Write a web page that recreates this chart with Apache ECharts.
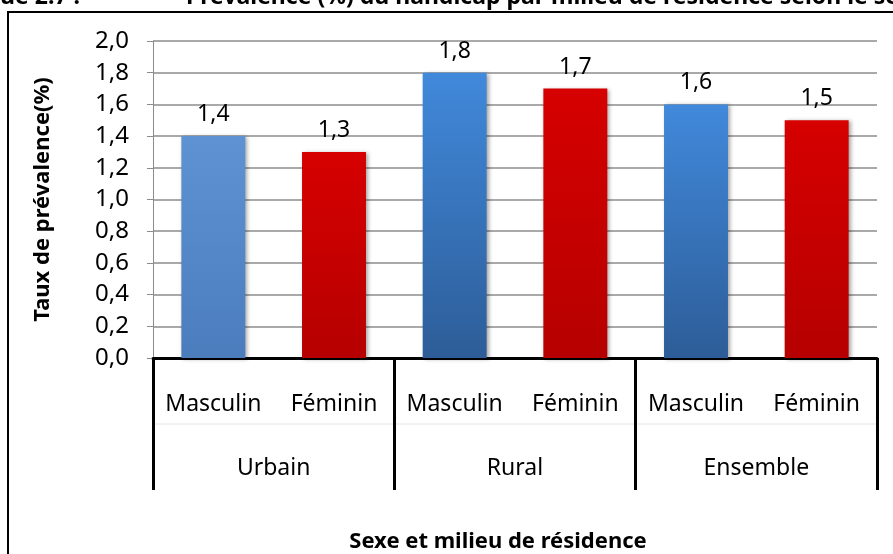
<!DOCTYPE html>
<html lang="fr">
<head>
    <meta charset="utf-8">
    <script src="https://cdn.jsdelivr.net/npm/echarts@6/dist/echarts.min.js"></script>
    <title>Prévalence du handicap</title>
    <style>
        html, body { margin: 0; padding: 0; background: #fff; }
        #main { width: 893px; height: 554px; }
    </style>
</head>
<body>
<div id="main"></div>
<script>
    // données
    var groups = ['Urbain', 'Rural', 'Ensemble'];
    var sexes = ['Masculin', 'Féminin', 'Masculin', 'Féminin', 'Masculin', 'Féminin'];
    var values = [1.4, 1.3, 1.8, 1.7, 1.6, 1.5];

    var FONT = 'Noto Sans';

    function virgule(v) {
        return v.toFixed(1).replace('.', ',');
    }

    function grad(top, bottom) {
        return new echarts.graphic.LinearGradient(0, 0, 0, 1, [
            {offset: 0, color: top},
            {offset: 1, color: bottom}
        ]);
    }

    // bleu pour masculin, rouge pour féminin (le 1er bleu est plus clair)
    function barColor(i) {
        if (sexes[i] === 'Féminin') return grad('#d60000', '#b60000');
        if (i === 0) return grad('#5e92d3', '#4b7dbd');
        return grad('#4189db', '#2d5d98');
    }

    var chart = echarts.init(document.getElementById('main'));

    var option = {
        animation: false,
        grid: {left: 153, right: 16, top: 41, bottom: 196},
        xAxis: [{
            type: 'category',
            data: sexes,
            axisLine: {lineStyle: {color: '#000', width: 3}},
            axisTick: {show: false},
            axisLabel: {
                interval: 0,
                margin: 35,
                color: '#000',
                fontSize: 23,
                fontFamily: FONT
            }
        }, {
            type: 'category',
            data: groups,
            position: 'bottom',
            axisLine: {show: false},
            axisTick: {show: true, length: 132, lineStyle: {color: '#000', width: 3}},
            axisLabel: {
                interval: 0,
                margin: 99,
                color: '#000',
                fontSize: 23,
                fontFamily: FONT
            }
        }],
        yAxis: {
            type: 'value',
            min: 0,
            max: 2,
            interval: 0.2,
            name: 'Taux de prévalence(%)',
            nameLocation: 'middle',
            nameGap: 99,
            nameRotate: 90,
            nameTextStyle: {color: '#000', fontSize: 22, fontWeight: 'bold', fontFamily: FONT},
            axisLine: {show: true, lineStyle: {color: '#8c8c8c', width: 1}},
            axisTick: {show: true, length: 6, lineStyle: {color: '#8c8c8c'}},
            splitLine: {lineStyle: {color: '#8c8c8c', width: 1.5}},
            axisLabel: {
                margin: 24,
                color: '#000',
                fontSize: 24,
                fontFamily: FONT,
                formatter: virgule
            }
        },
        series: [{
            type: 'bar',
            xAxisIndex: 0,
            barWidth: '53%',
            data: values.map(function (v, i) {
                return {value: v, itemStyle: {color: barColor(i)}};
            }),
            itemStyle: {
                shadowColor: 'rgba(0,0,0,0.35)',
                shadowBlur: 4,
                shadowOffsetX: 2,
                shadowOffsetY: 1
            },
            label: {
                show: true,
                position: 'top',
                distance: 10,
                color: '#000',
                fontSize: 23,
                fontFamily: FONT,
                formatter: function (p) { return virgule(p.value); }
            }
        }],
        graphic: [{
            type: 'rect',
            shape: {x: 8, y: 12, width: 920, height: 600},
            style: {fill: 'none', stroke: '#000', lineWidth: 2},
            silent: true
        }, {
            type: 'line',
            shape: {x1: 153, y1: 424, x2: 877, y2: 424},
            style: {stroke: '#e4e4e4', lineWidth: 1},
            silent: true
        }, {
            type: 'text',
            x: 80, y: -3,
            style: {
                text: 'Graphique 2.7 :',
                align: 'right', verticalAlign: 'middle',
                fontSize: 23, fontWeight: 'bold', fontFamily: FONT, fill: '#000'
            }
        }, {
            type: 'text',
            x: 186, y: -3,
            style: {
                text: 'Prévalence (%) du handicap par milieu de résidence selon le sexe',
                align: 'left', verticalAlign: 'middle',
                fontSize: 23, fontWeight: 'bold', fontFamily: FONT, fill: '#000'
            }
        }, {
            type: 'text',
            x: 498, y: 542,
            style: {
                text: 'Sexe et milieu de résidence',
                align: 'center', verticalAlign: 'middle',
                fontSize: 22, fontWeight: 'bold', fontFamily: FONT, fill: '#000'
            }
        }]
    };

    chart.setOption(option);
</script>
</body>
</html>
